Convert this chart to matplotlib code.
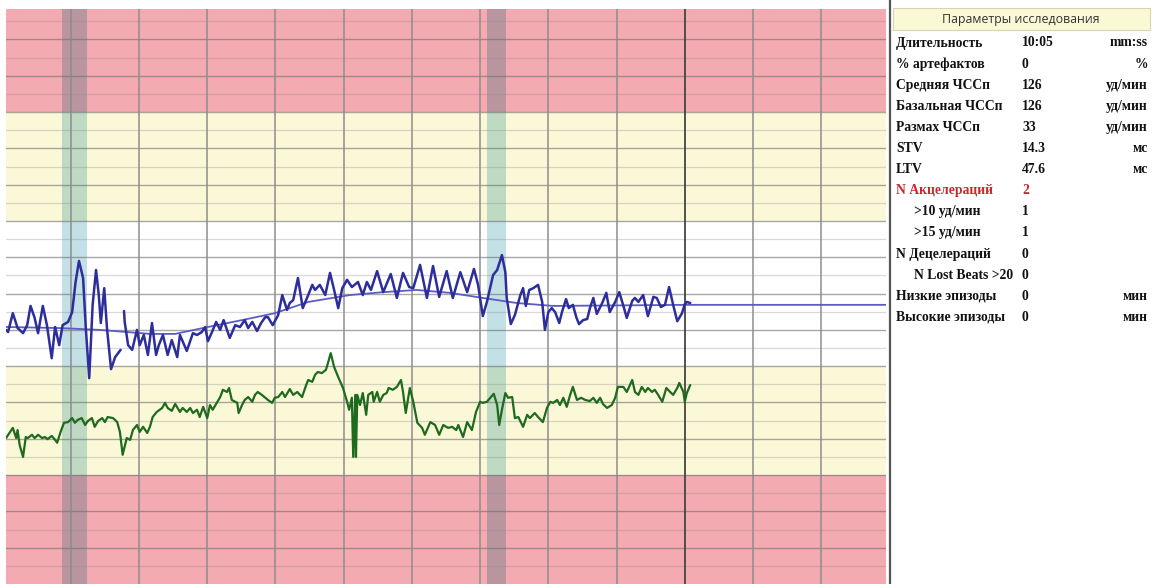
import numpy as np
import matplotlib
matplotlib.use("Agg")
import matplotlib.pyplot as plt
from matplotlib.patches import Rectangle
from matplotlib.lines import Line2D

# ---------------- data ----------------
# Fetal heart rate trace (minutes, bpm); NaN marks a signal gap
fhr_t = [0.05, 0.08, 0.15, 0.22, 0.30, 0.36, 0.41, 0.47, 0.52, 0.59,
         0.65, 0.72, 0.77, 0.83, 0.88, 0.96, 1.02, 1.07, 1.12, 1.18,
         1.22, 1.27, 1.32, 1.37, 1.41, 1.44, 1.49, 1.53, 1.59, 1.65,
         1.73, 1.75,
         1.78, 1.79, 1.84, 1.90, 1.97, 2.01, 2.07, 2.13, 2.19, 2.25,
         2.29, 2.35, 2.42, 2.48, 2.56, 2.60, 2.70, 2.79, 2.85, 2.92,
         2.97, 3.01, 3.07, 3.13, 3.19, 3.24, 3.33, 3.41, 3.48, 3.55,
         3.60, 3.66, 3.73, 3.79, 3.85, 3.89, 3.96, 4.04, 4.10, 4.17,
         4.21, 4.26, 4.33, 4.40, 4.48, 4.54, 4.58, 4.65, 4.73, 4.80,
         4.86, 4.92, 4.98, 5.05, 5.12, 5.21, 5.28, 5.34, 5.40, 5.49,
         5.58, 5.69, 5.78, 5.87, 5.96, 6.02, 6.12, 6.22, 6.31, 6.40,
         6.51, 6.60, 6.71, 6.81, 6.91, 6.97, 7.04, 7.10, 7.19, 7.25,
         7.32, 7.37, 7.39, 7.45, 7.51, 7.59, 7.63, 7.67, 7.72, 7.78,
         7.85, 7.91, 7.95, 8.00, 8.05, 8.10, 8.16, 8.20, 8.26, 8.30,
         8.36, 8.41, 8.45, 8.51, 8.57, 8.61, 8.66, 8.71, 8.79, 8.85,
         8.90, 8.98, 9.04, 9.11, 9.15, 9.23, 9.27, 9.32, 9.39, 9.46,
         9.54, 9.59, 9.65, 9.71, 9.77, 9.83, 9.89, 9.96, 10.00, 10.03,
         10.08]
fhr_v = [120.0, 119.4, 124.6, 120.5, 119.1, 121.3, 126.6, 123.3, 119.1, 126.6,
         121.3, 112.2, 120.8, 115.8, 121.3, 122.2, 124.9, 133.2, 139.0, 134.3,
         120.5, 106.7, 126.9, 136.5, 129.6, 121.9, 131.5, 120.5, 109.2, 112.5,
         114.5, np.nan,
         125.2, 122.2, 115.8, 114.5, 120.0, 115.8, 118.6, 113.1, 121.9, 113.1,
         115.8, 118.6, 113.1, 117.2, 112.5, 118.6, 114.2, 119.1, 118.6, 119.4,
         120.8, 116.9, 119.4, 122.2, 120.0, 122.7, 117.8, 121.3, 120.8, 122.7,
         120.5, 122.2, 119.7, 121.9, 123.5, 123.5, 121.3, 124.1, 129.6, 125.5,
         127.4, 128.2, 134.3, 126.0, 129.6, 132.4, 131.0, 132.4, 129.6, 135.7,
         131.0, 126.0, 131.5, 133.8, 131.8, 133.2, 129.6, 133.2, 131.0, 136.2,
         130.4, 135.4, 128.8, 135.7, 131.8, 131.5, 137.9, 128.8, 137.6, 129.1,
         136.2, 128.8, 135.9, 130.4, 136.8, 132.4, 123.8, 127.7, 135.1, 136.5,
         140.6, 135.9, 128.8, 121.6, 124.1, 129.6, 131.5, 126.6, 131.0, 131.5,
         132.4, 127.7, 120.0, 124.9, 126.0, 124.9, 121.9, 124.9, 128.5, 126.0,
         126.9, 123.5, 121.6, 122.7, 123.0, 126.0, 128.8, 124.4, 127.4, 130.2,
         124.9, 127.7, 130.4, 126.0, 123.3, 128.0, 128.8, 127.7, 129.6, 123.8,
         129.1, 128.8, 126.3, 126.9, 131.8, 126.9, 122.4, 124.6, 127.1, 127.7,
         127.4]

# Baseline FHR curve
base_t = [0.05, 0.84, 1.43, 2.16, 2.53, 3.01, 3.51, 3.99, 4.48, 5.09,
          5.58, 6.07, 6.56, 7.04, 7.54, 8.07, 10.03, 12.95]
base_v = [120.8, 120.5, 120.0, 118.9, 118.9, 120.8, 122.7, 124.6, 127.7, 129.6,
          130.4, 131.0, 130.2, 128.8, 127.4, 126.6, 126.9, 126.9]

# Second (green) trace
sec_t = [0.05, 0.11, 0.15, 0.20, 0.22, 0.25, 0.30, 0.34, 0.37, 0.43,
         0.47, 0.52, 0.58, 0.62, 0.66, 0.72, 0.77, 0.80, 0.85, 0.90,
         0.96, 1.02, 1.06, 1.10, 1.16, 1.21, 1.25, 1.31, 1.35, 1.40,
         1.46, 1.50, 1.54, 1.62, 1.68, 1.72, 1.76, 1.82, 1.87, 1.91,
         1.97, 2.01, 2.06, 2.12, 2.16, 2.20, 2.26, 2.34, 2.38, 2.42,
         2.48, 2.53, 2.60, 2.64, 2.70, 2.75, 2.79, 2.85, 2.89, 2.94,
         3.00, 3.04, 3.08, 3.14, 3.19, 3.23, 3.29, 3.32, 3.36, 3.44,
         3.46, 3.51, 3.55, 3.60, 3.66, 3.70, 3.74, 3.80, 3.85, 3.89,
         3.95, 3.99, 4.04, 4.10, 4.14, 4.21, 4.26, 4.32, 4.39, 4.45,
         4.48, 4.54, 4.58, 4.62, 4.68, 4.74, 4.77, 4.81, 4.86, 4.92,
         4.99, 5.05, 5.08, 5.12, 5.14, 5.17, 5.18, 5.20, 5.24, 5.28,
         5.33, 5.36, 5.42, 5.44, 5.49, 5.53, 5.58, 5.63, 5.66, 5.72,
         5.78, 5.84, 5.87, 5.91, 5.97, 6.02, 6.08, 6.15, 6.19, 6.27,
         6.34, 6.40, 6.46, 6.53, 6.59, 6.65, 6.68, 6.75, 6.81, 6.88,
         6.94, 7.00, 7.04, 7.10, 7.15, 7.20, 7.25, 7.28, 7.32, 7.37,
         7.41, 7.47, 7.51, 7.56, 7.63, 7.69, 7.73, 7.80, 7.85, 7.92,
         7.98, 8.03, 8.07, 8.13, 8.17, 8.22, 8.27, 8.32, 8.36, 8.42,
         8.48, 8.54, 8.61, 8.66, 8.71, 8.76, 8.80, 8.86, 8.93, 8.98,
         9.02, 9.10, 9.15, 9.23, 9.27, 9.32, 9.37, 9.42, 9.46, 9.52,
         9.56, 9.61, 9.67, 9.73, 9.77, 9.83, 9.89, 9.92, 9.98, 10.00,
         10.03, 10.08]
sec_v = [90.2, 91.9, 93.0, 90.2, 92.4, 88.3, 85.0, 90.5, 90.2, 91.1,
         90.2, 91.1, 90.2, 90.5, 89.9, 90.8, 89.7, 88.9, 91.9, 94.4,
         94.6, 95.7, 94.4, 95.2, 95.7, 93.8, 94.9, 95.7, 93.3, 94.9,
         95.7, 94.6, 96.0, 95.7, 94.6, 91.9, 85.6, 90.2, 89.7, 92.4,
         93.8, 91.9, 93.3, 91.6, 93.3, 96.0, 97.4, 98.5, 99.9, 98.5,
         97.7, 99.6, 97.4, 98.5, 97.4, 98.5, 97.1, 98.0, 96.0, 98.8,
         95.7, 99.3, 98.0, 99.9, 101.5, 103.5, 102.9, 104.0, 100.7, 99.9,
         97.1, 99.3, 100.7, 101.5, 100.2, 102.1, 102.9, 102.1, 101.3, 100.7,
         99.9, 101.3, 101.5, 102.9, 101.5, 103.7, 102.1, 102.9, 101.5, 104.8,
         106.2, 105.7, 107.6, 108.4, 108.1, 109.0, 110.9, 113.6, 109.8, 107.0,
         104.0, 100.2, 98.0, 101.3, 85.0, 102.1, 85.0, 102.1, 99.3, 102.6,
         96.6, 102.1, 102.9, 100.2, 102.9, 100.2, 102.1, 102.6, 104.0, 103.5,
         104.3, 106.2, 102.9, 97.1, 104.0, 100.2, 94.4, 93.0, 91.1, 94.6,
         93.8, 91.1, 93.8, 93.0, 93.3, 92.4, 93.8, 90.5, 94.6, 92.4,
         97.4, 100.2, 99.9, 100.2, 101.3, 102.4, 99.3, 93.8, 98.0, 102.6,
         101.3, 101.5, 95.7, 96.0, 93.3, 96.6, 95.7, 97.1, 96.0, 94.6,
         98.5, 100.2, 99.9, 100.7, 99.3, 101.3, 98.8, 102.1, 104.3, 100.7,
         101.3, 100.7, 100.4, 101.3, 99.9, 101.3, 99.6, 98.5, 99.3, 101.3,
         104.3, 104.3, 102.9, 106.2, 102.9, 102.1, 104.3, 102.9, 104.0, 102.9,
         103.5, 102.1, 100.2, 104.0, 103.2, 102.1, 104.0, 105.4, 102.9, 100.2,
         102.6, 104.8]

# Acceleration markers (minutes)
acc_start = [0.87, 7.10]
acc_end = [1.24, 7.38]

# Zones (bpm)
zone_edges = [50, 80, 110, 150, 180, 210]
zone_colors = ["#F4AAB1", "#FBF8D8", "#FFFFFF", "#FBF8D8", "#F4AAB1"]
recording_end = 10.0

# Parameters panel
panel_title = "Параметры исследования"
param_labels = ["Длительность", "% артефактов", "Средняя ЧССп", "Базальная ЧССп",
                "Размах ЧССп", "STV", "LTV", "N Акцелераций", ">10 уд/мин",
                ">15 уд/мин", "N Децелераций", "N Lost Beats >20",
                "Низкие эпизоды", "Высокие эпизоды"]
param_values = ["10:05", "0", "126", "126", "33", "14.3", "47.6", "2", "1", "1",
                "0", "0", "0", "0"]
param_units = ["mm:ss", "%", "уд/мин", "уд/мин", "уд/мин", "мс", "мс", "", "", "",
               "", "", "мин", "мин"]
param_indent = [0, 0, 0, 0, 0, 0, 0, 0, 1, 1, 0, 1, 0, 0]
param_red = [False] * 7 + [True] + [False] * 6

# ---------------- figure ----------------
W, H = 1153, 584
fig = plt.figure(figsize=(W / 100, H / 100), dpi=100)
fig.patch.set_facecolor("white")

ax = fig.add_axes([6 / W, 0, 880 / W, 575 / H])
ax.set_xlim(0.05, 12.95)
ax.set_ylim(50, 208.4)
ax.set_axis_off()

for i, c in enumerate(zone_colors):
    ax.axhspan(zone_edges[i], zone_edges[i + 1], color=c, zorder=0, lw=0)

# acceleration bands: multiply-like tint per zone
tint = np.array([0.76, 0.88, 0.90])
for s, e in zip(acc_start, acc_end):
    for i, c in enumerate(zone_colors):
        base = np.array(matplotlib.colors.to_rgb(c))
        ax.add_patch(Rectangle((s, zone_edges[i]), e - s, zone_edges[i + 1] - zone_edges[i],
                               facecolor=tuple(base * tint), edgecolor="none", zorder=0.5))

# horizontal grid
for y in range(55, 210, 5):
    if y % 10 == 0:
        ax.axhline(y, color="#6e6e6e", alpha=0.6, lw=1.0, zorder=1)
    else:
        ax.axhline(y, color="#8a8a8a", alpha=0.32, lw=0.9, zorder=1)

# vertical grid (1 min)
for m in range(1, 13):
    if m == recording_end:
        ax.axvline(m, color="#444444", lw=1.3, zorder=1.2)
    else:
        ax.axvline(m, color="#8c8c8c", lw=1.2, alpha=0.9, zorder=1.2)

ax.plot(base_t, base_v, color="#5c5cc4", lw=1.3, zorder=2.5, solid_capstyle="round")
ax.plot(fhr_t, fhr_v, color="#2d2d9c", lw=1.8, zorder=3,
        solid_joinstyle="round", solid_capstyle="round")
ax.plot(sec_t, sec_v, color="#1e6a1e", lw=1.6, zorder=3,
        solid_joinstyle="round", solid_capstyle="round")

# ---------------- panel ----------------
def fx(px):
    return px / W

def fy(py):
    return 1 - py / H

fig.add_artist(Line2D([fx(890), fx(890)], [0, 1], color="#555555", lw=1.6))
fig.add_artist(Rectangle((fx(893), fy(30)), fx(1150) - fx(893), fy(8) - fy(30),
                         facecolor="#FBF8D6", edgecolor="#d8d4b0", lw=0.8))
fig.text(fx(1021), fy(19), panel_title, ha="center", va="center",
         fontsize=8.9, family=["Open Sans", "DejaVu Sans"], color="#333333")

for i, (lab, val, unit) in enumerate(zip(param_labels, param_values, param_units)):
    y = fy(43 + 21.1 * i)
    col = "#c8282e" if param_red[i] else "#111111"
    x0 = 914 if param_indent[i] else 896
    kw = dict(va="center", fontsize=9.8, family=["Liberation Serif", "DejaVu Serif"],
              fontweight="bold", color=col)
    fig.text(fx(x0), y, lab, ha="left", **kw)
    fig.text(fx(1022), y, val, ha="left", **kw)
    if unit:
        fig.text(fx(1148), y, unit, ha="right", **kw)

fig.savefig("out.png", dpi=100, facecolor="white")
